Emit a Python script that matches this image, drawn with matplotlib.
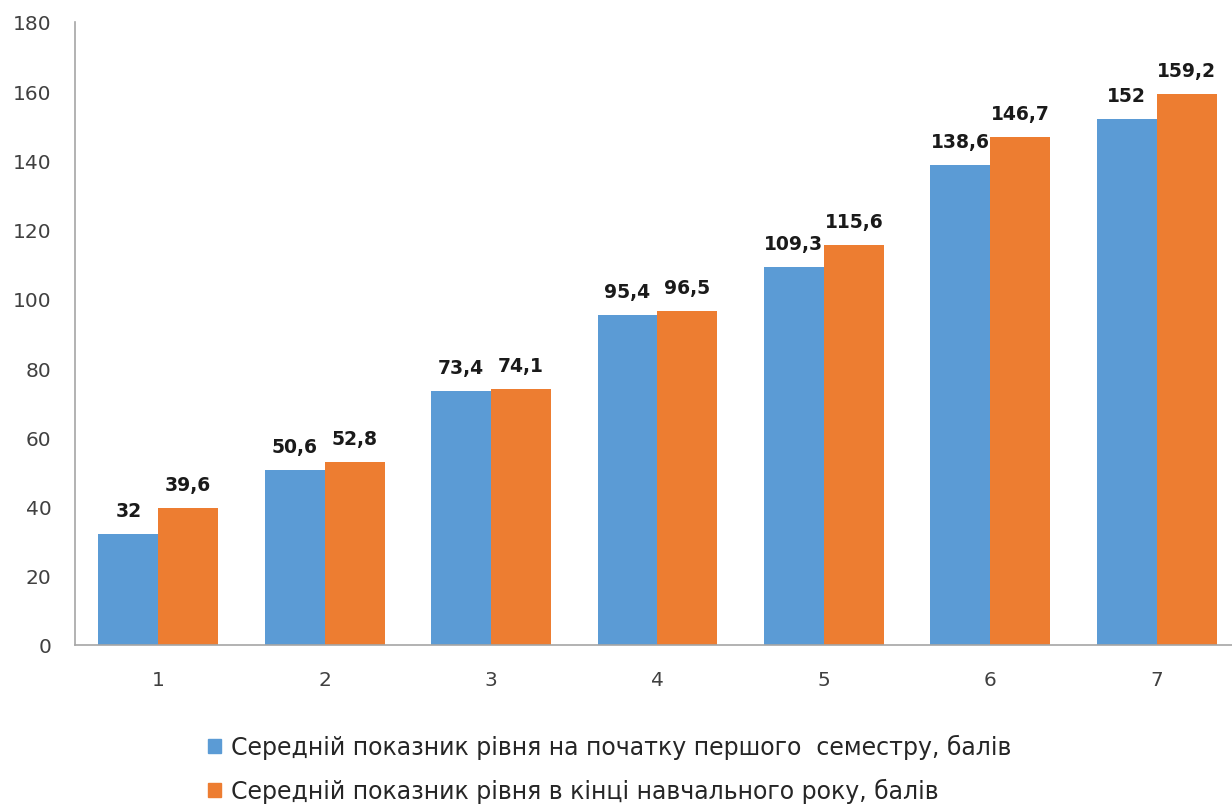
import matplotlib.pyplot as plt
import numpy as np
from matplotlib.patches import Patch

# Дані
categorias = ["1", "2", "3", "4", "5", "6", "7"]
inicio = [32, 50.6, 73.4, 95.4, 109.3, 138.6, 152]
fim = [39.6, 52.8, 74.1, 96.5, 115.6, 146.7, 159.2]
legenda = ["Середній показник рівня на початку першого  семестру, балів",
           "Середній показник рівня в кінці навчального року, балів"]

azul = "#5B9BD5"
laranja = "#ED7D31"

plt.rcParams['font.family'] = ['DejaVu Sans']

fig = plt.figure(figsize=(12.32, 8.12), dpi=100)
ax = fig.add_axes([75/1232, 166/812, 1165/1232, 623/812])

x = np.arange(1, len(categorias) + 1)
w = 0.36
b1 = ax.bar(x - w/2, inicio, w, color=azul)
b2 = ax.bar(x + w/2, fim, w, color=laranja)

# Rótulos dos valores com vírgula decimal
for bars, vals in [(b1, inicio), (b2, fim)]:
    for bar, v in zip(bars, vals):
        txt = f"{v:g}".replace(".", ",")
        ax.annotate(txt, (bar.get_x() + bar.get_width()/2, bar.get_height()),
                    xytext=(0, 10), textcoords="offset points",
                    ha="center", va="bottom", fontsize=13.5, fontweight="bold",
                    color="#1a1a1a")

ax.set_xlim(0.5, 7.5)
ax.set_ylim(0, 180)
ax.set_yticks(range(0, 181, 20))
ax.set_xticks(x)
ax.set_xticklabels(categorias)
ax.tick_params(axis="both", length=0, labelsize=14.5, colors="#404040")
ax.tick_params(axis="y", pad=17)
ax.tick_params(axis="x", pad=18)

for s in ["top", "right"]:
    ax.spines[s].set_visible(False)
for s in ["left", "bottom"]:
    ax.spines[s].set_color("#a6a6a6")
    ax.spines[s].set_linewidth(1.2)

handles = [Patch(color=azul), Patch(color=laranja)]
fig.legend(handles, legenda, loc="upper center", bbox_to_anchor=(0.495, 98/812),
           ncol=1, frameon=False, fontsize=17, handlelength=0.55, handleheight=0.55,
           handletextpad=0.45, labelspacing=0.8, labelcolor="#262626")

fig.savefig("out.png", dpi=100)
